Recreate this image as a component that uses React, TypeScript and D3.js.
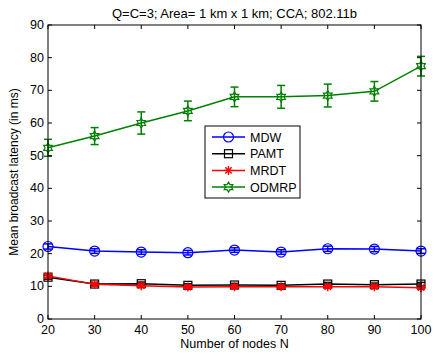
import React from "react";
import * as d3 from "d3";

const nodes = [20, 30, 40, 50, 60, 70, 80, 90, 100];
const mdw = [22.2, 20.8, 20.5, 20.3, 21.1, 20.5, 21.5, 21.4, 20.8];
const mdwErr = [0.8, 0.7, 0.7, 0.7, 0.7, 0.7, 0.8, 0.8, 0.7];
const pamt = [12.8, 10.7, 10.8, 10.3, 10.4, 10.3, 10.7, 10.5, 10.7];
const pamtErr = [0.6, 0.5, 0.5, 0.5, 0.5, 0.5, 0.5, 0.5, 0.5];
const mrdt = [13.2, 10.6, 10.2, 9.8, 9.9, 9.9, 9.9, 9.9, 9.6];
const mrdtErr = [0.6, 0.5, 0.5, 0.5, 0.5, 0.5, 0.5, 0.5, 0.5];
const odmrp = [52.4, 56.0, 60.0, 63.7, 68.0, 68.0, 68.4, 69.7, 77.4];
const odmrpErr = [2.6, 2.6, 3.4, 3.0, 3.0, 3.5, 3.5, 3.0, 3.0];
const xTicks = [20, 30, 40, 50, 60, 70, 80, 90, 100];
const yTicks = [0, 10, 20, 30, 40, 50, 60, 70, 80, 90];

const series = [
  { name: "MDW", values: mdw, err: mdwErr, color: "#0000ff", marker: "circle" },
  { name: "PAMT", values: pamt, err: pamtErr, color: "#000000", marker: "square" },
  { name: "MRDT", values: mrdt, err: mrdtErr, color: "#ff0000", marker: "star" },
  { name: "ODMRP", values: odmrp, err: odmrpErr, color: "#008000", marker: "hex" },
];

const font = "'Liberation Sans', Arial, sans-serif";

function hexagram(r: number) {
  const pts: string[] = [];
  for (let i = 0; i < 12; i++) {
    const a = (Math.PI / 6) * i - Math.PI / 2;
    const rr = i % 2 === 0 ? r : r * 0.58;
    pts.push(`${rr * Math.cos(a)},${rr * Math.sin(a)}`);
  }
  return "M" + pts.join("L") + "Z";
}

function Marker({ type, x, y, color }: { type: string; x: number; y: number; color: string }) {
  if (type === "circle")
    return <circle cx={x} cy={y} r={5} fill="none" stroke={color} strokeWidth={1.2} />;
  if (type === "square")
    return <rect x={x - 4} y={y - 4} width={8} height={8} fill="none" stroke={color} strokeWidth={1.2} />;
  if (type === "star") {
    const r = 4.5;
    const d = [0, 45, 90, 135]
      .map((deg) => {
        const a = (deg * Math.PI) / 180;
        return `M${x - r * Math.cos(a)},${y - r * Math.sin(a)}L${x + r * Math.cos(a)},${y + r * Math.sin(a)}`;
      })
      .join("");
    return <path d={d} stroke={color} strokeWidth={1.4} fill="none" />;
  }
  return <path d={hexagram(5)} transform={`translate(${x},${y})`} fill="none" stroke={color} strokeWidth={1.2} />;
}

export default function App() {
  const width = 434;
  const height = 361;
  const left = 48, right = 421, top = 25, bottom = 319;
  const x = d3.scaleLinear().domain([20, 100]).range([left, right]);
  const y = d3.scaleLinear().domain([0, 90]).range([bottom, top]);
  const line = d3.line<number>().x((_, i) => x(nodes[i])).y((v) => y(v));

  return (
    <svg width={width} height={height} style={{ position: "absolute", left: 0, top: 0, background: "#fff" }}>
      <rect x={0} y={0} width={width} height={height} fill="#fff" />
      <text x={(left + right) / 2} y={18} textAnchor="middle" fontFamily={font} fontSize={13}>
        Q=C=3; Area= 1 km x 1 km; CCA; 802.11b
      </text>
      {series.map((s) => (
        <g key={s.name}>
          <path d={line(s.values) || ""} fill="none" stroke={s.color} strokeWidth={1.5} />
          {s.values.map((v, i) => {
            const cx = x(nodes[i]);
            const e = s.err[i];
            return (
              <g key={i}>
                <line x1={cx} x2={cx} y1={y(v - e)} y2={y(v + e)} stroke={s.color} strokeWidth={1.5} />
                <line x1={cx - 4} x2={cx + 4} y1={y(v - e)} y2={y(v - e)} stroke={s.color} strokeWidth={1.5} />
                <line x1={cx - 4} x2={cx + 4} y1={y(v + e)} y2={y(v + e)} stroke={s.color} strokeWidth={1.5} />
                <Marker type={s.marker} x={cx} y={y(v)} color={s.color} />
              </g>
            );
          })}
        </g>
      ))}
      <rect x={left} y={top} width={right - left} height={bottom - top} fill="none" stroke="#000" strokeWidth={1} />
      {xTicks.map((t) => (
        <g key={t}>
          <line x1={x(t)} x2={x(t)} y1={bottom} y2={bottom - 4} stroke="#000" />
          <line x1={x(t)} x2={x(t)} y1={top} y2={top + 4} stroke="#000" />
          <text x={x(t)} y={bottom + 15} textAnchor="middle" fontFamily={font} fontSize={12.5}>
            {t}
          </text>
        </g>
      ))}
      {yTicks.map((t) => (
        <g key={t}>
          <line x1={left} x2={left + 4} y1={y(t)} y2={y(t)} stroke="#000" />
          <line x1={right} x2={right - 4} y1={y(t)} y2={y(t)} stroke="#000" />
          <text x={left - 4} y={y(t) + 4} textAnchor="end" fontFamily={font} fontSize={12.5}>
            {t}
          </text>
        </g>
      ))}
      <text x={(left + right) / 2} y={348} textAnchor="middle" fontFamily={font} fontSize={12.5}>
        Number of nodes N
      </text>
      <text
        transform={`translate(18,${(top + bottom) / 2}) rotate(-90)`}
        textAnchor="middle"
        fontFamily={font}
        fontSize={12}
      >
        Mean broadcast latency (in ms)
      </text>
      <g>
        <rect x={205} y={126} width={95} height={72} fill="#fff" stroke="#000" strokeWidth={1} />
        {series.map((s, i) => {
          const ly = 137 + i * 16.7;
          return (
            <g key={s.name}>
              <line x1={212} x2={245} y1={ly} y2={ly} stroke={s.color} strokeWidth={1.5} />
              <Marker type={s.marker} x={228.5} y={ly} color={s.color} />
              <text x={250} y={ly + 4.5} fontFamily={font} fontSize={12.5}>
                {s.name}
              </text>
            </g>
          );
        })}
      </g>
    </svg>
  );
}
